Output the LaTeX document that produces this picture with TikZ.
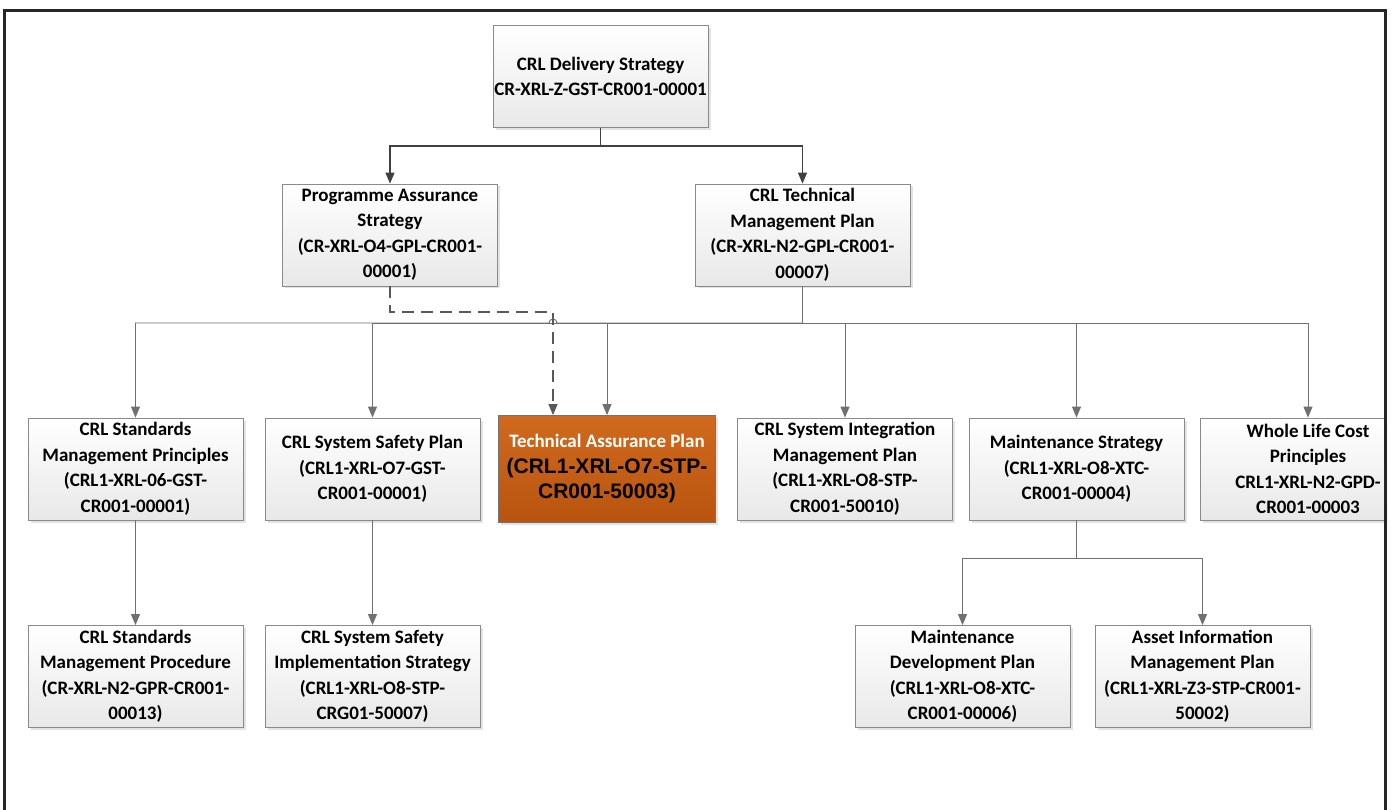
\documentclass[tikz,border=0pt]{standalone}
\usepackage{fontspec}
\setmainfont{Carlito}
\newfontfamily\codefont{Liberation Sans}
\usetikzlibrary{arrows.meta, shadows}

\definecolor{boxline}{HTML}{8A8A8A}
\definecolor{wire}{HTML}{707070}
\definecolor{trunkwire}{HTML}{404040}
\definecolor{taptop}{HTML}{D06A1E}
\definecolor{tapbottom}{HTML}{B9540F}
\newcommand\tapcode{\codefont\bfseries\fontsize{21}{25.5}\selectfont}

\begin{document}
\begin{tikzpicture}[x=1pt, y=-1pt, >={Triangle[length=11pt,width=9pt]},
    doc/.style={draw=boxline, line width=0.8pt, top color=white, bottom color=black!9,
        minimum width=215pt, minimum height=102pt, inner sep=0pt, align=center,
        font=\bfseries\fontsize{19}{25.5}\selectfont,
        drop shadow={shadow xshift=2.5pt, shadow yshift=-2.5pt, fill=black!22}},
    tap/.style={doc, draw=black!55, top color=taptop, bottom color=tapbottom,
        minimum width=217pt, minimum height=107pt},
    trunk/.style={draw=trunkwire, line width=1.3pt},
    wire/.style={draw=wire, line width=0.9pt},
    dashline/.style={draw=black!65, line width=1.2pt, dash pattern=on 12pt off 7pt}]

    \useasboundingbox (0,0) rectangle (1392,810);
    \clip (0,0) rectangle (1387,810);

    \node[doc] (1) at (600.5,76.5) {CRL Delivery Strategy\\CR-XRL-Z-GST-CR001-00001};
    \node[doc] (2) at (390,235)  {Programme Assurance\\Strategy\\(CR-XRL-O4-GPL-CR001-\\00001)};
    \node[doc] (3) at (802.5,235) {CRL Technical\\Management Plan\\(CR-XRL-N2-GPL-CR001-\\00007)};

    \node[doc] (4) at (135.5,469) {CRL Standards\\Management Principles\\(CRL1-XRL-06-GST-\\CR001-00001)};
    \node[doc] (5) at (372.5,469) {CRL System Safety Plan\\(CRL1-XRL-O7-GST-\\CR001-00001)};
    \node[tap] (6) at (607,469) {\textcolor{white}{Technical Assurance Plan}\\
        \tapcode (CRL1-XRL-O7-STP-\\ \tapcode CR001-50003)};
    \node[doc] (7) at (845,469) {CRL System Integration\\Management Plan\\(CRL1-XRL-O8-STP-\\CR001-50010)};
    \node[doc] (8) at (1076.5,469) {Maintenance Strategy\\(CRL1-XRL-O8-XTC-\\CR001-00004)};
    \node[doc] (9) at (1308,469) {Whole Life Cost\\Principles\\CRL1-XRL-N2-GPD-\\CR001-00003};

    \node[doc] (10) at (135.5,676.5) {CRL Standards\\Management Procedure\\(CR-XRL-N2-GPR-CR001-\\00013)};
    \node[doc] (11) at (372.5,676.5) {CRL System Safety\\Implementation Strategy\\(CRL1-XRL-O8-STP-\\CRG01-50007)};
    \node[doc] (12) at (962.5,676.5) {Maintenance\\Development Plan\\(CRL1-XRL-O8-XTC-\\CR001-00006)};
    \node[doc] (13) at (1202.5,676.5) {Asset Information\\Management Plan\\(CRL1-XRL-Z3-STP-CR001-\\50002)};

    % junctions
    \coordinate (j1) at (600.5,146);
    \coordinate (j2) at (802.5,323);
    \coordinate (hop) at (553,323);
    \coordinate (d) at (553,312);
    \coordinate (j3) at (1076.5,558);

    \draw[trunk] (1.south) -- (j1);
    \draw[trunk, ->] (j1) -| (2.north);
    \draw[trunk, ->] (j1) -| (3.north);

    \draw[wire] (3.south) -- (j2);
    \draw[wire, ->] (j2) -- ([xshift=4pt]hop) arc (0:-180:4) -| (4.north);
    \draw[wire, ->] (j2) -| (5.north);
    \draw[wire, ->] (j2) -| (6.north);
    \draw[wire, ->] (j2) -| (7.north);
    \draw[wire, ->] (j2) -| (8.north);
    \draw[wire, ->] (j2) -| (9.north);

    \draw[dashline, ->] (2.south) |- (d) -- (d |- 6.north);

    \draw[wire, ->] (4) -- (10);
    \draw[wire, ->] (5) -- (11);
    \draw[wire] (8.south) -- (j3);
    \draw[wire, ->] (j3) -| (12.north);
    \draw[wire, ->] (j3) -| (13.north);

    % frame
    \draw[line width=3pt, black!85] (4,830) |- (1385,11) -- (1385,830);
\end{tikzpicture}
\end{document}
